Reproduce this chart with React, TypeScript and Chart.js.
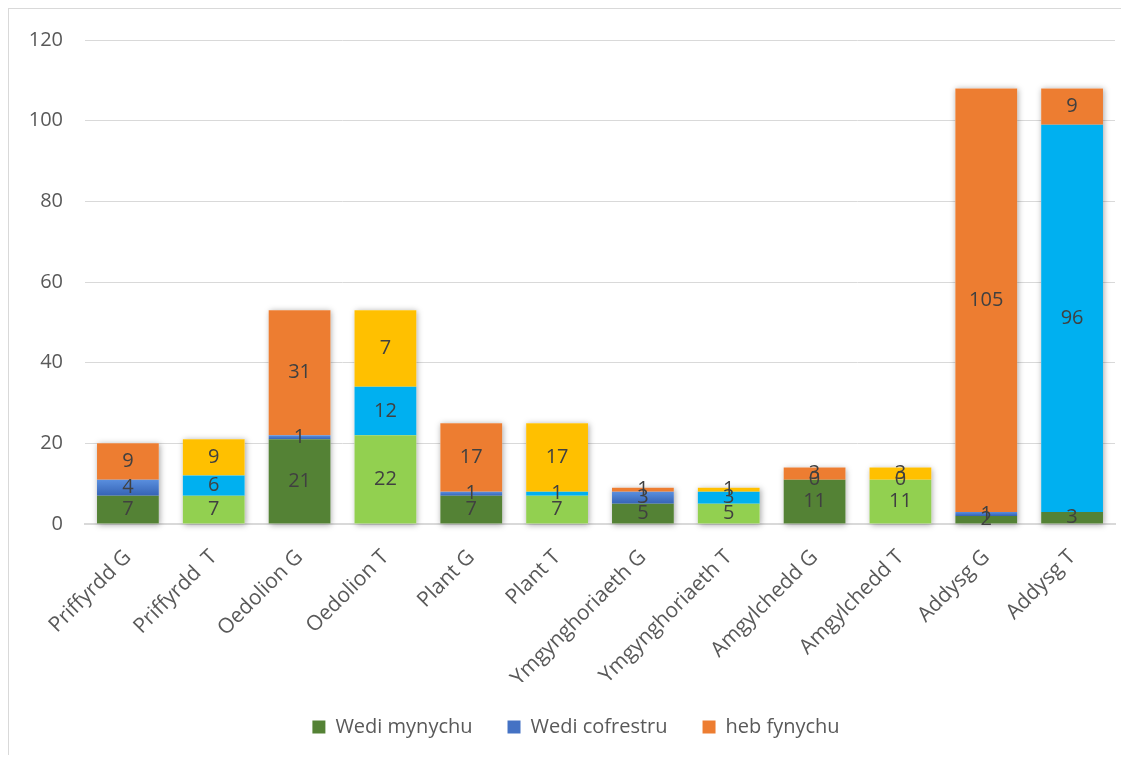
import React, { useEffect, useRef } from "react";
import { Chart, registerables } from "chart.js";

Chart.register(...registerables);

const categories = [
  "Priffyrdd G", "Priffyrdd  T", "Oedolion G", "Oedolion T", "Plant G", "Plant T",
  "Ymgynghoriaeth G", "Ymgynghoriaeth T", "Amgylchedd G", "Amgylchedd T", "Addysg G", "Addysg T",
];
const seriesNames = ["Wedi mynychu", "Wedi cofrestru", "heb fynychu"];

const wediMynychu = [7, 7, 21, 22, 7, 7, 5, 5, 11, 11, 2, 3];
const wediCofrestru = [4, 5, 1, 12, 1, 1, 3, 3, 0, 0, 1, 96];
const hebFynychu = [9, 9, 31, 19, 17, 17, 1, 1, 3, 3, 105, 9];

// labels printed on the segments (as shown in the original)
const wediMynychuLabels = ["7", "7", "21", "22", "7", "7", "5", "5", "11", "11", "2", "3"];
const wediCofrestruLabels = ["4", "6", "1", "12", "1", "1", "3", "3", "0", "0", "1", "96"];
const hebFynychuLabels = ["9", "9", "31", "7", "17", "17", "1", "1", "3", "3", "105", "9"];

const yTicks = [0, 20, 40, 60, 80, 100, 120];

// colours per bar
const mynychuColors = ["#548235", "#92D050", "#548235", "#92D050", "#548235", "#92D050", "#548235", "#92D050", "#548235", "#92D050", "#548235", "#548235"];
const cofrestruColors = ["#4472C4", "#00B0F0", "#4472C4", "#00B0F0", "#4472C4", "#00B0F0", "#4472C4", "#00B0F0", "#4472C4", "#00B0F0", "#4472C4", "#00B0F0"];
const hebColors = ["#ED7D31", "#FFC000", "#ED7D31", "#FFC000", "#ED7D31", "#FFC000", "#ED7D31", "#FFC000", "#ED7D31", "#FFC000", "#ED7D31", "#ED7D31"];

const FONT = "'Open Sans', 'DejaVu Sans', sans-serif";

const shadowPlugin = {
  id: "barShadow",
  beforeDatasetsDraw(chart: any) {
    const ctx = chart.ctx;
    const metas = chart.data.datasets.map((_: any, i: number) => chart.getDatasetMeta(i));
    const n = chart.data.labels.length;
    // gradient on the dark-blue segments
    metas[1].data.forEach((el: any, i: number) => {
      if (cofrestruColors[i] === "#4472C4" && el.base - el.y > 0.5) {
        const g = ctx.createLinearGradient(0, el.y, 0, el.base);
        g.addColorStop(0, "#5A8FDE");
        g.addColorStop(1, "#3563B5");
        el.options.backgroundColor = g;
      }
    });
    ctx.save();
    ctx.shadowColor = "rgba(0,0,0,0.35)";
    ctx.shadowBlur = 6;
    ctx.shadowOffsetX = 1;
    ctx.shadowOffsetY = 1;
    ctx.fillStyle = "#ffffff";
    for (let i = 0; i < n; i++) {
      const base = metas[0].data[i];
      let top = base.base;
      for (const m of metas) top = Math.min(top, m.data[i].y);
      const w = base.width;
      ctx.fillRect(base.x - w / 2, top, w, base.base - top);
    }
    ctx.restore();
  },
};

const legendShiftPlugin = {
  id: "legendShift",
  afterLayout(chart: any) {
    if (chart.legend) {
      chart.legend.left += 14;
      chart.legend.right += 14;
    }
  },
};

const segmentLabelPlugin = {
  id: "segmentLabels",
  afterDatasetsDraw(chart: any) {
    const ctx = chart.ctx;
    const labelSets = [wediMynychuLabels, wediCofrestruLabels, hebFynychuLabels];
    ctx.save();
    ctx.font = `20px ${FONT}`;
    ctx.fillStyle = "#404040";
    ctx.textAlign = "center";
    ctx.textBaseline = "middle";
    chart.data.datasets.forEach((_: any, di: number) => {
      const meta = chart.getDatasetMeta(di);
      meta.data.forEach((el: any, i: number) => {
        const txt = labelSets[di][i];
        ctx.fillText(txt, el.x, (el.y + el.base) / 2);
      });
    });
    ctx.restore();
  },
};

export default function App() {
  const ref = useRef<HTMLCanvasElement | null>(null);
  useEffect(() => {
    if (!ref.current) return;
    const chart = new Chart(ref.current, {
      type: "bar",
      data: {
        labels: categories,
        datasets: [
          { label: seriesNames[0], data: wediMynychu, backgroundColor: mynychuColors },
          { label: seriesNames[1], data: wediCofrestru, backgroundColor: cofrestruColors },
          { label: seriesNames[2], data: hebFynychu, backgroundColor: hebColors },
        ],
      },
      options: {
        responsive: true,
        maintainAspectRatio: false,
        animation: false,
        layout: { padding: { top: 31, right: 6, left: 0, bottom: 8 } },
        datasets: { bar: { categoryPercentage: 1, barPercentage: 0.72 } },
        plugins: {
          tooltip: { enabled: false },
          legend: {
            position: "bottom",
            labels: {
              color: "#595959",
              font: { family: FONT, size: 20 },
              boxWidth: 13,
              boxHeight: 13,
              padding: 35,
            },
          },
        },
        scales: {
          x: {
            stacked: true,
            grid: { display: false, drawTicks: false },
            border: { display: true, color: "#d9d9d9", width: 2 },
            ticks: {
              color: "#595959",
              font: { family: FONT, size: 21 },
              minRotation: 45,
              maxRotation: 45,
              padding: 21,
            },
            afterFit: (s: any) => { s.height = 158; },
          },
          y: {
            stacked: true,
            min: 0,
            max: 120,
            afterBuildTicks: (s: any) => { s.ticks = yTicks.map((v) => ({ value: v })); },
            grid: { color: "#d9d9d9", drawTicks: true, tickLength: 22, tickColor: "rgba(0,0,0,0)" },
            border: { display: false },
            ticks: {
              color: "#595959",
              font: { family: FONT, size: 20 },
              padding: 0,
            },
            afterFit: (s: any) => { s.width = 76; },
          },
        },
      },
      plugins: [shadowPlugin, segmentLabelPlugin, legendShiftPlugin],
    });
    return () => chart.destroy();
  }, []);

  return (
    <div
      style={{
        width: 1113,
        height: 747,
        boxSizing: "border-box",
        borderTop: "1px solid #d9d9d9",
        borderLeft: "1px solid #d9d9d9",
        background: "#fff",
        position: "relative",
      }}
    >
      <canvas ref={ref} />
    </div>
  );
}
